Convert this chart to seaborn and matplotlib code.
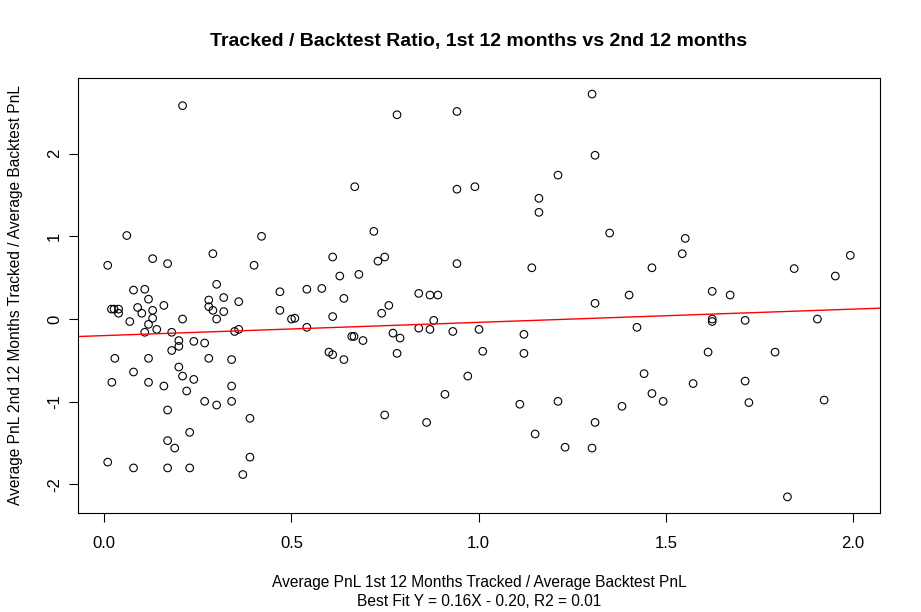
import matplotlib
matplotlib.use("Agg")
import matplotlib.pyplot as plt
import seaborn as sns
import pandas as pd
import numpy as np

# ratio tracked / backtest, first 12 months (x) vs second 12 months (y)
ratio_1st = [0.209, 0.060, 0.420, 0.290, 0.129, 0.169, 0.009, 0.400, 0.610, 0.629,
             0.300, 0.078, 0.108, 0.469, 0.541, 0.581, 0.118, 0.319, 0.279, 0.359,
             0.640, 0.019, 0.026, 0.038, 0.038, 0.089, 0.100, 0.129, 0.159, 0.129,
             0.068, 0.118, 0.140, 0.108, 0.180, 0.209, 0.279, 0.290, 0.319, 0.300,
             0.469, 0.500, 0.509, 0.610, 0.541, 0.359, 0.348, 0.199, 0.199, 0.180,
             0.239, 0.268, 0.028, 0.118, 0.279, 0.340, 0.600, 0.610, 0.640, 0.199,
             0.078, 0.209, 0.239, 0.020, 0.118, 0.159, 0.340, 0.220, 0.268, 0.300,
             0.340, 0.169, 0.389, 0.228, 0.169, 0.188, 0.389, 0.009, 0.078, 0.169,
             0.228, 0.370, 1.303, 0.782, 0.942, 1.311, 1.212, 0.669, 0.942, 0.990,
             1.161, 1.161, 1.350, 0.720, 0.731, 0.749, 0.680, 0.942, 1.142, 0.840,
             0.870, 0.891, 1.311, 0.760, 0.741, 0.880, 0.840, 0.870, 0.931, 1.001,
             1.121, 0.661, 0.667, 0.691, 0.771, 0.790, 0.782, 1.011, 1.121, 0.971,
             0.910, 1.110, 1.212, 0.749, 0.861, 1.311, 1.151, 1.231, 1.303, 1.552,
             1.544, 1.993, 1.463, 1.843, 1.953, 1.402, 1.624, 1.672, 1.624, 1.624,
             1.712, 1.905, 1.423, 1.613, 1.792, 1.442, 1.573, 1.712, 1.463, 1.493,
             1.383, 1.722, 1.923, 1.825]
ratio_2nd = [2.58, 1.01, 1.00, 0.79, 0.73, 0.67, 0.65, 0.65, 0.75, 0.52,
             0.42, 0.35, 0.36, 0.33, 0.36, 0.37, 0.24, 0.26, 0.23, 0.21,
             0.25, 0.12, 0.12, 0.12, 0.07, 0.14, 0.07, 0.105, 0.165, 0.01,
             -0.03, -0.064, -0.125, -0.16, -0.16, 0.00, 0.15, 0.105, 0.09, 0.00,
             0.105, 0.00, 0.01, 0.03, -0.10, -0.125, -0.15, -0.26, -0.33, -0.38,
             -0.27, -0.29, -0.475, -0.475, -0.475, -0.49, -0.40, -0.43, -0.49, -0.58,
             -0.64, -0.69, -0.73, -0.765, -0.765, -0.81, -0.81, -0.87, -0.995, -1.04,
             -0.995, -1.10, -1.20, -1.37, -1.47, -1.56, -1.67, -1.73, -1.80, -1.80,
             -1.80, -1.88, 2.72, 2.47, 2.51, 1.98, 1.74, 1.60, 1.57, 1.60,
             1.46, 1.29, 1.04, 1.06, 0.70, 0.75, 0.54, 0.67, 0.62, 0.31,
             0.29, 0.29, 0.19, 0.165, 0.07, -0.016, -0.11, -0.125, -0.15, -0.125,
             -0.185, -0.21, -0.21, -0.26, -0.17, -0.23, -0.415, -0.39, -0.415, -0.69,
             -0.91, -1.03, -0.995, -1.16, -1.25, -1.25, -1.39, -1.55, -1.56, 0.975,
             0.79, 0.77, 0.62, 0.61, 0.52, 0.29, 0.335, 0.29, 0.00, -0.03,
             -0.016, 0.00, -0.10, -0.40, -0.40, -0.66, -0.78, -0.75, -0.90, -0.995,
             -1.055, -1.01, -0.98, -2.15]

fit_slope = 0.16
fit_intercept = -0.20
fit_r2 = 0.01

df = pd.DataFrame({"x": ratio_1st, "y": ratio_2nd})

sns.set_theme(style="ticks")
plt.rcParams["font.family"] = ["Liberation Sans", "DejaVu Sans"]
plt.rcParams["text.color"] = "black"
plt.rcParams["axes.labelcolor"] = "black"

fig = plt.figure(figsize=(9.21, 6.12), dpi=100)
ax = fig.add_axes([0.0847, 0.1618, 0.8708, 0.7108])

sns.scatterplot(data=df, x="x", y="y", ax=ax, s=30, marker="o",
                facecolor="none", edgecolor="black", linewidth=0.8)

ax.axline((0, fit_intercept), slope=fit_slope, color="red", linewidth=1)

# R style 4% padding on both axes
xr = df["x"].max() - df["x"].min()
yr = df["y"].max() - df["y"].min()
ax.set_xlim(df["x"].min() - 0.04 * xr, df["x"].max() + 0.04 * xr)
ax.set_ylim(df["y"].min() - 0.04 * yr, df["y"].max() + 0.04 * yr)

ax.set_xticks([0.0, 0.5, 1.0, 1.5, 2.0])
ax.set_xticklabels(["0.0", "0.5", "1.0", "1.5", "2.0"])
ax.set_yticks([-2, -1, 0, 1, 2])
ax.set_yticklabels(["-2", "-1", "0", "1", "2"], rotation=90, va="center")
ax.tick_params(axis="both", direction="out", length=6.5, width=0.8,
               labelsize=12, colors="black")
ax.tick_params(axis="x", pad=10)
ax.tick_params(axis="y", pad=5)

for sp in ax.spines.values():
    sp.set_color("black")
    sp.set_linewidth(0.8)

ax.set_xlabel("Average PnL 1st 12 Months Tracked / Average Backtest PnL\n"
              f"Best Fit Y = {fit_slope:.2f}X - {abs(fit_intercept):.2f}, R2 = {fit_r2:.2f}",
              fontsize=11.2, labelpad=17, linespacing=1.35)
ax.set_ylabel("Average PnL 2nd 12 Months Tracked / Average Backtest PnL",
              fontsize=11.2, labelpad=17)
ax.set_title("Tracked / Backtest Ratio, 1st 12 months vs 2nd 12 months",
             fontsize=14, fontweight="bold", pad=23)

fig.savefig("out.png", dpi=100)
